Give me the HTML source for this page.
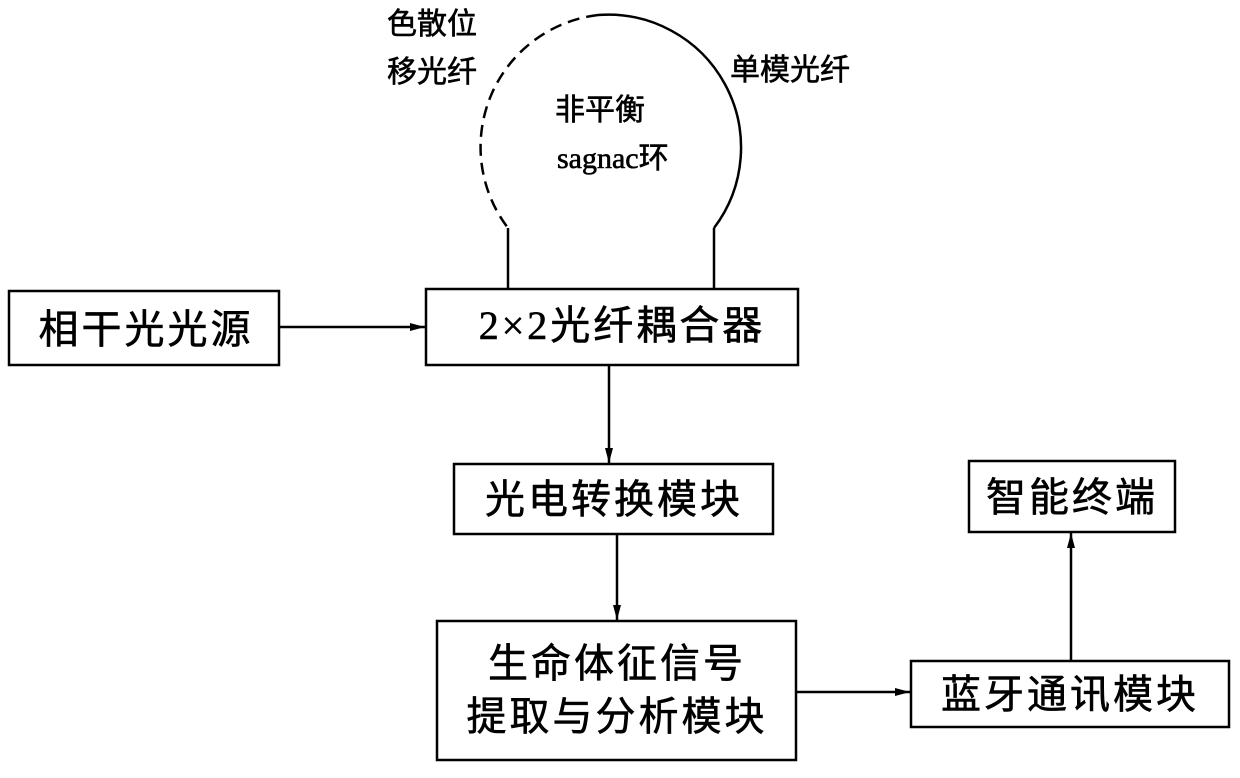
<!DOCTYPE html>
<html><head><meta charset="utf-8"><style>
body{margin:0;background:#fff;}
svg text{font-family:"Liberation Serif","Noto Sans CJK SC",serif;fill:#000;stroke:#000;stroke-width:0.6;}
</style></head><body>
<svg width="1240" height="773" viewBox="0 0 1240 773" xmlns="http://www.w3.org/2000/svg">
<defs><marker id="a" markerWidth="16" markerHeight="10" refX="15" refY="5" orient="auto" markerUnits="userSpaceOnUse"><path d="M0,1 L15,5 L0,9 Z" fill="#000"/></marker></defs>
<g fill="none" stroke="#000" stroke-width="2.5">
<path d="M598,15 A133,133 0 0 0 508,228" stroke-dasharray="12,7"/>
<path d="M598,15 A133,133 0 0 1 714,228"/>
<line x1="508" y1="228" x2="508" y2="289"/>
<line x1="714" y1="228" x2="714" y2="289"/>
<rect x="9" y="291" width="270" height="74"/>
<rect x="426" y="289" width="372" height="76"/>
<rect x="454" y="464" width="319" height="70"/>
<rect x="437" y="621" width="359" height="139"/>
<rect x="911" y="661" width="318" height="66"/>
<rect x="969" y="461" width="206" height="71"/>
<line x1="279" y1="327" x2="425" y2="327" marker-end="url(#a)"/>
<line x1="609" y1="365" x2="609" y2="463" marker-end="url(#a)"/>
<line x1="617" y1="534" x2="617" y2="620" marker-end="url(#a)"/>
<line x1="796" y1="692" x2="910" y2="692" marker-end="url(#a)"/>
<line x1="1071" y1="661" x2="1071" y2="533" marker-end="url(#a)"/>
</g>
<g font-size="30">
<text x="387" y="34">色散位</text>
<text x="387" y="82">移光纤</text>
<text x="730" y="80">单模光纤</text>
<text x="555" y="120">非平衡</text>
<text x="557" y="168">sagnac环</text>
</g>
<g font-size="40" letter-spacing="3">
<text x="146" y="343" text-anchor="middle">相干光光源</text>
<text x="622" y="339" text-anchor="middle">2×2光纤耦合器</text>
<text x="614" y="513" text-anchor="middle">光电转换模块</text>
<text x="617" y="677" text-anchor="middle">生命体征信号</text>
<text x="617" y="730" text-anchor="middle">提取与分析模块</text>
<text x="1070" y="708" text-anchor="middle">蓝牙通讯模块</text>
<text x="1072" y="511" text-anchor="middle">智能终端</text>
</g>
</svg>
</body></html>
